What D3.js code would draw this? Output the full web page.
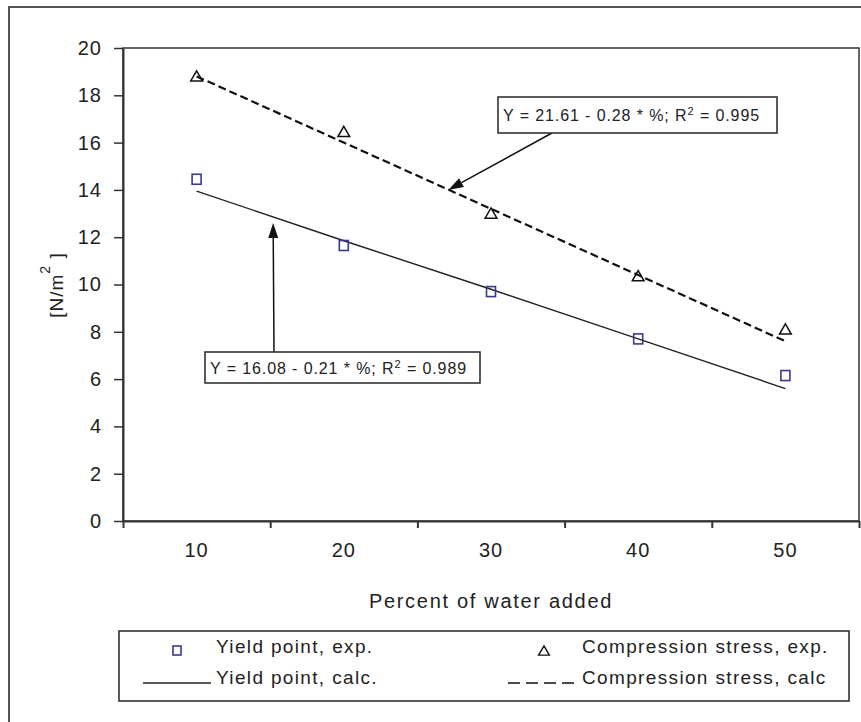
<!DOCTYPE html>
<html><head><meta charset="utf-8">
<script src="https://cdn.jsdelivr.net/npm/d3@7"></script>
<style>
html,body{margin:0;padding:0;background:#fff;}
svg{display:block;font-family:"Liberation Sans",Arial,sans-serif;}
</style></head>
<body>
<svg id="chart" width="861" height="722"></svg>
<script>
// ---- data ----
const categories = ["10", "20", "30", "40", "50"];
const yieldExp = [14.45, 11.65, 9.7, 7.7, 6.15];
const yieldCalc = [13.95, 11.85, 9.8, 7.7, 5.6];
const compExp = [18.75, 16.4, 12.95, 10.3, 8.05];
const compCalc = [18.8, 16.0, 13.2, 10.4, 7.6];
const yTicks = [0, 2, 4, 6, 8, 10, 12, 14, 16, 18, 20];
const xTitle = "Percent of water added";
const legendLabels = ["Yield point, exp.", "Yield point, calc.", "Compression stress, exp.", "Compression stress, calc"];
const eqComp = ["Y = 21.61 - 0.28 * %; R", "2", " = 0.995"];
const eqYield = ["Y = 16.08 - 0.21 * %; R", "2", " = 0.989"];
// arrow tips in data units [percent, value]
const arrowCompTip = [27.1, 14.0];
const arrowYieldTip = [15.2, 12.6];

// ---- layout ----
const svg = d3.select("#chart");
const L = 123, R = 859, T = 48, B = 521;

const x = d3.scaleBand().domain(categories).range([L, R]).padding(0);
const xc = c => x(c) + x.bandwidth() / 2;
const xVal = d3.scaleLinear().domain([10, 50]).range([xc("10"), xc("50")]);
const xEdge = d3.scaleLinear().domain([0, categories.length]).range([L, R]);
const y = d3.scaleLinear().domain([0, 20]).range([B, T]);

// outer frame
svg.append("rect").attr("x", 9).attr("y", 7).attr("width", 900).attr("height", 760)
  .attr("fill", "none").attr("stroke", "#555").attr("stroke-width", 2);

// plot frame
svg.append("rect").attr("x", L).attr("y", T).attr("width", R - L).attr("height", B - T)
  .attr("fill", "none").attr("stroke", "#333").attr("stroke-width", 1.5);

// y axis
const yAxis = svg.append("g").attr("transform", `translate(${L},0)`)
  .call(d3.axisLeft(y).tickValues(yTicks).tickSize(9).tickSizeOuter(0).tickPadding(12));
yAxis.select(".domain").attr("stroke", "#333").attr("stroke-width", 2);
yAxis.selectAll(".tick line").attr("stroke", "#333").attr("stroke-width", 1.5);
yAxis.selectAll(".tick text").attr("font-size", 20).attr("fill", "#222")
  .attr("letter-spacing", 1).attr("font-family", "Liberation Sans, Arial, sans-serif");

// x axis: ticks at band edges
const xAxisEdges = svg.append("g").attr("transform", `translate(0,${B})`)
  .call(d3.axisBottom(xEdge).tickValues(d3.range(categories.length + 1)).tickFormat("").tickSize(7).tickSizeOuter(0));
xAxisEdges.select(".domain").attr("stroke", "#333").attr("stroke-width", 2);
xAxisEdges.selectAll(".tick line").attr("stroke", "#333").attr("stroke-width", 2);

// x labels at band centers
const xAxisLabels = svg.append("g").attr("transform", `translate(0,${B})`)
  .call(d3.axisBottom(x).tickSize(0).tickPadding(22));
xAxisLabels.select(".domain").remove();
xAxisLabels.selectAll(".tick text").attr("font-size", 20).attr("fill", "#222")
  .attr("letter-spacing", 1).attr("font-family", "Liberation Sans, Arial, sans-serif");

// x title
svg.append("text").attr("x", (L + R) / 2).attr("y", 608).attr("text-anchor", "middle")
  .attr("font-size", 20).attr("letter-spacing", 1.7).attr("fill", "#222").text(xTitle);

// y title
const yt = svg.append("text").attr("transform", `translate(63,285) rotate(-90)`)
  .attr("text-anchor", "middle").attr("font-size", 19).attr("letter-spacing", 1).attr("fill", "#222");
yt.append("tspan").text("[N/m");
yt.append("tspan").attr("dy", -13).attr("font-size", 14).text("2");
yt.append("tspan").attr("dy", 13).text(" ]");

// lines
const line = d3.line().x((d, i) => xc(categories[i])).y(d => y(d));
svg.append("path").datum(yieldCalc).attr("d", line).attr("fill", "none")
  .attr("stroke", "#222").attr("stroke-width", 1.4);
svg.append("path").datum(compCalc).attr("d", line).attr("fill", "none")
  .attr("stroke", "#111").attr("stroke-width", 2.2).attr("stroke-dasharray", "8,4");

// markers
const sq = 9;
svg.selectAll(".sq").data(yieldExp).enter().append("rect").attr("class", "sq")
  .attr("x", (d, i) => xc(categories[i]) - sq / 2).attr("y", d => y(d) - sq / 2 - 0.5)
  .attr("width", sq).attr("height", sq + 1).attr("fill", "none")
  .attr("stroke", "#3a3a8c").attr("stroke-width", 1.6);

const tri = d3.symbol().type(d3.symbolTriangle).size(60);
svg.selectAll(".tri").data(compExp).enter().append("path").attr("class", "tri")
  .attr("d", tri).attr("transform", (d, i) => `translate(${xc(categories[i])},${y(d)})`)
  .attr("fill", "none").attr("stroke", "#111").attr("stroke-width", 1.5);

// annotations
function arrow(x1, y1, x2, y2) {
  const ang = Math.atan2(y2 - y1, x2 - x1);
  const len = 15, w = 5;
  const bx = x2 - len * Math.cos(ang), by = y2 - len * Math.sin(ang);
  svg.append("line").attr("x1", x1).attr("y1", y1).attr("x2", bx).attr("y2", by)
    .attr("stroke", "#111").attr("stroke-width", 1.5);
  const px = -Math.sin(ang) * w, py = Math.cos(ang) * w;
  svg.append("path").attr("d", `M${x2},${y2}L${bx + px},${by + py}L${bx - px},${by - py}Z`)
    .attr("fill", "#111");
}
function eqBox(bx, by, bw, bh, parts) {
  svg.append("rect").attr("x", bx).attr("y", by).attr("width", bw).attr("height", bh)
    .attr("fill", "#fff").attr("stroke", "#333").attr("stroke-width", 1.6);
  const t = svg.append("text").attr("x", bx + 5).attr("y", by + bh / 2 + 6)
    .attr("font-size", 16).attr("letter-spacing", 0.9).attr("fill", "#222");
  t.append("tspan").text(parts[0]);
  t.append("tspan").attr("dy", -6).attr("font-size", 11).text(parts[1]);
  t.append("tspan").attr("dy", 6).text(parts[2]);
}
arrow(552, 133, xVal(arrowCompTip[0]), y(arrowCompTip[1]));
eqBox(498, 97, 279, 36, eqComp);
arrow(274, 352, xVal(arrowYieldTip[0]), y(arrowYieldTip[1]));
eqBox(205, 352, 275, 31, eqYield);

// legend
svg.append("rect").attr("x", 119).attr("y", 631).attr("width", 730).attr("height", 70)
  .attr("fill", "#fff").attr("stroke", "#333").attr("stroke-width", 1.6);
const lg = svg.append("g").attr("font-size", 19).attr("letter-spacing", 1.35).attr("fill", "#222");
lg.append("rect").attr("x", 173).attr("y", 646).attr("width", 8).attr("height", 9)
  .attr("fill", "none").attr("stroke", "#3a3a8c").attr("stroke-width", 1.6);
lg.append("text").attr("x", 216).attr("y", 653).text(legendLabels[0]);
lg.append("line").attr("x1", 143).attr("x2", 211).attr("y1", 683).attr("y2", 683)
  .attr("stroke", "#222").attr("stroke-width", 1.4);
lg.append("text").attr("x", 216).attr("y", 684).text(legendLabels[1]);
lg.append("path").attr("d", tri.size(50)).attr("transform", "translate(544,652)")
  .attr("fill", "none").attr("stroke", "#111").attr("stroke-width", 1.4);
lg.append("text").attr("x", 582).attr("y", 653).text(legendLabels[2]);
lg.append("line").attr("x1", 508).attr("x2", 578).attr("y1", 683).attr("y2", 683)
  .attr("stroke", "#111").attr("stroke-width", 1.6).attr("stroke-dasharray", "12,6");
lg.append("text").attr("x", 582).attr("y", 684).text(legendLabels[3]);
</script>
</body></html>
